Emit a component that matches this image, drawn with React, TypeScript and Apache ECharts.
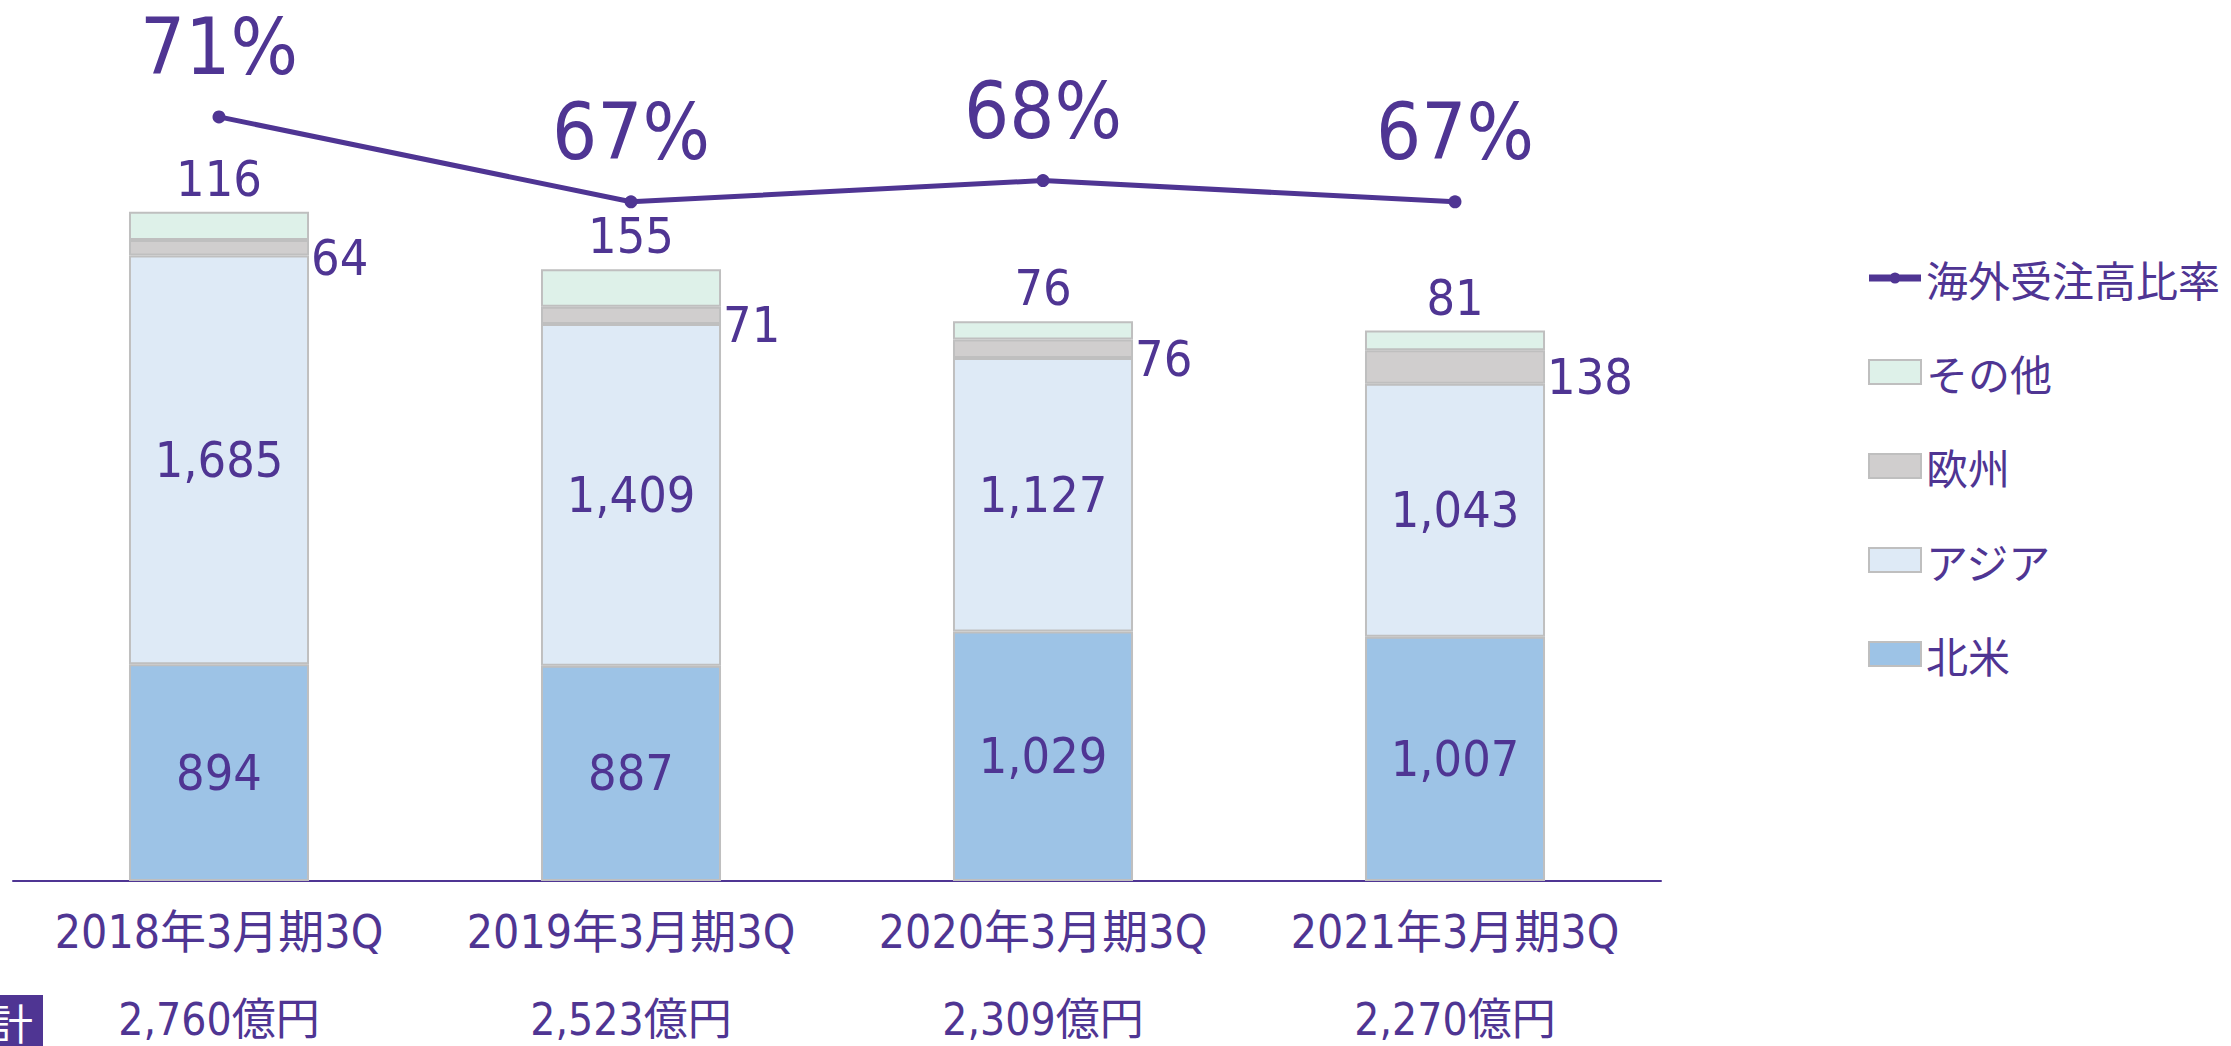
import React, { useEffect, useRef } from "react";
import * as echarts from "echarts";

const categories = ["2018年3月期3Q", "2019年3月期3Q", "2020年3月期3Q", "2021年3月期3Q"];
const totals = ["2,760億円", "2,523億円", "2,309億円", "2,270億円"];
const northAmerica = [894, 887, 1029, 1007];
const asia = [1685, 1409, 1127, 1043];
const europe = [64, 71, 76, 138];
const others = [116, 155, 76, 81];
const overseasRatio = [71, 67, 68, 67];

const PURPLE = "#4F3593";
const FONT = "'DejaVu Sans Condensed', 'DejaVu Sans', 'Noto Sans CJK JP', sans-serif";
const JFONT = "'Noto Sans CJK JP', sans-serif";
const LINE_ICON =
  "path://M0,0 L0.1,0 L0.1,0.1 Z M0,24 L0.1,24 L0.1,23.9 Z M0,8.5 L52,8.5 L52,15.5 L0,15.5 Z M20.5,12 A5.5,5.5 0 1 1 31.5,12 A5.5,5.5 0 1 1 20.5,12 Z";

function fmt(v: number) {
  return v.toLocaleString("en-US");
}

export default function App() {
  const ref = useRef<HTMLDivElement>(null);
  useEffect(() => {
    if (!ref.current) return;
    const chart = echarts.init(ref.current, undefined, { renderer: "svg" });
    const barBase = {
      type: "bar" as const,
      stack: "total",
      barWidth: "43.7%",
      itemStyle: { borderColor: "#BFBFBF", borderWidth: 2 },
    };
    const insideLabel = {
      show: true,
      position: "inside",
      color: PURPLE,
      fontSize: 50,
      fontFamily: FONT,
      formatter: (p: any) => fmt(p.value),
    };
    chart.setOption({
      animation: false,
      textStyle: { fontFamily: FONT },
      grid: { left: 13, right: 570, top: 32, bottom: 165, containLabel: false },
      legend: {
        left: 1863,
        top: 252,
        orient: "vertical",
        itemWidth: 52,
        itemHeight: 24,
        itemGap: 52,
        icon: "rect",
        data: [
          { name: "海外受注高比率", icon: LINE_ICON },
          "その他",
          "欧州",
          "アジア",
          "北米",
        ],
        textStyle: { color: PURPLE, fontSize: 42, fontFamily: JFONT, lineHeight: 42 },
      },
      xAxis: [
        {
          type: "category",
          data: categories,
          axisTick: { show: false },
          axisLine: { lineStyle: { color: PURPLE, width: 2 } },
          axisLabel: { color: PURPLE, fontSize: 46, margin: 28, interval: 0, fontFamily: FONT },
        },
        {
          type: "category",
          data: totals,
          position: "bottom",
          offset: 88,
          axisTick: { show: false },
          axisLine: { show: false },
          axisLabel: { color: PURPLE, fontSize: 44, margin: 28, interval: 0, fontFamily: FONT },
        },
      ],
      yAxis: [
        { type: "value", min: 0, max: 3500, show: false, splitLine: { show: false } },
        { type: "value", min: 35, max: 75, show: false, splitLine: { show: false } },
      ],
      series: [
        {
          ...barBase,
          name: "北米",
          data: northAmerica,
          itemStyle: { ...barBase.itemStyle, color: "#9DC3E6" },
          label: insideLabel,
        },
        {
          ...barBase,
          name: "アジア",
          data: asia,
          itemStyle: { ...barBase.itemStyle, color: "#DEEAF6" },
          label: insideLabel,
        },
        {
          ...barBase,
          name: "欧州",
          data: europe,
          itemStyle: { ...barBase.itemStyle, color: "#D0CECE" },
          label: { ...insideLabel, position: "right", distance: 2, offset: [0, 10] },
        },
        {
          ...barBase,
          name: "その他",
          data: others,
          itemStyle: { ...barBase.itemStyle, color: "#DEF1E9" },
          label: { ...insideLabel, position: "top", distance: 8 },
        },
        {
          type: "line",
          name: "海外受注高比率",
          yAxisIndex: 1,
          data: overseasRatio,
          symbol: "circle",
          symbolSize: 13,
          lineStyle: { color: PURPLE, width: 5 },
          itemStyle: { color: PURPLE },
          z: 10,
          label: {
            show: true,
            position: "top",
            distance: 24,
            color: PURPLE,
            fontSize: 79,
            fontFamily: FONT,
            formatter: (p: any) => p.value + "%",
          },
        },
      ],
      graphic: [
        {
          type: "rect",
          left: 0,
          top: 995,
          shape: { width: 43, height: 51 },
          style: { fill: PURPLE },
        },
        {
          type: "text",
          x: -9,
          y: 1000,
          style: { text: "計", fill: "#FFFFFF", fontSize: 42, fontFamily: JFONT },
        },
      ],
    });
    return () => chart.dispose();
  }, []);
  return (
    <div
      ref={ref}
      style={{ position: "absolute", left: 0, top: 0, width: 2231, height: 1046 }}
    />
  );
}
